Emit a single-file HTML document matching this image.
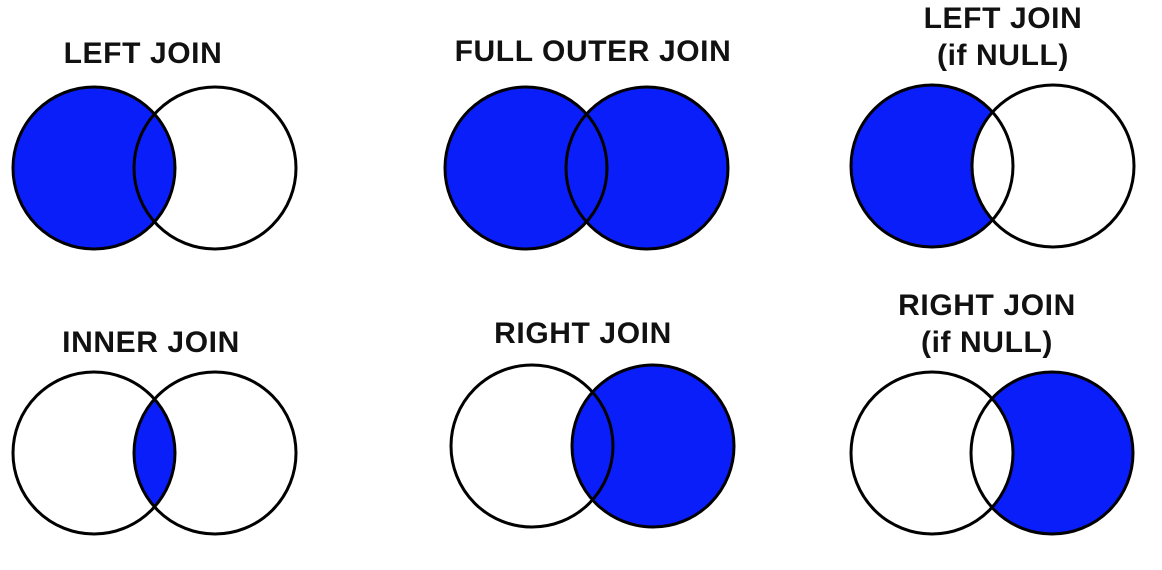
<!DOCTYPE html>
<html><head><meta charset="utf-8"><style>
html,body{margin:0;padding:0;background:#fff;width:1162px;height:570px;overflow:hidden}
svg{display:block}
text{font-family:"Liberation Sans",Arial,sans-serif;font-weight:bold;font-size:30px;letter-spacing:0.6px;fill:#111;text-anchor:middle}
</style></head><body>
<svg id="s" width="1162" height="570" viewBox="0 0 1162 570"></svg>
<script>
const names=["left-join","full-outer-join","left-join-if-null","inner-join","right-join","right-join-if-null"];
const titles=[["LEFT JOIN"],["FULL OUTER JOIN"],["LEFT JOIN","(if NULL)"],["INNER JOIN"],["RIGHT JOIN"],["RIGHT JOIN","(if NULL)"]];
const modes=["left","both","leftonly","inner","right","rightonly"];
const leftX=[94,526,932,94,532,932];
const rightX=[215,647,1053,215,653,1052];
const centerY=[168,168,166,453,446,453];
const titleX=[143,593,1003,151,583,987];
const titleY=[63,61,28,352,343,315];
const R=81, BLUE="#0a1efa";
const NS="http://www.w3.org/2000/svg";
const svg=document.getElementById('s');
const defs=document.createElementNS(NS,'defs');svg.appendChild(defs);
function mk(tag,attrs,parent){const e=document.createElementNS(NS,tag);for(const k in attrs)e.setAttribute(k,attrs[k]);(parent||svg).appendChild(e);return e;}
names.forEach((n,i)=>{
  const g=mk('g',{});
  
  
  const lx=leftX[i],rx=rightX[i],cy=centerY[i],m=modes[i];
  const cl=mk('clipPath',{id:'cl'+i},defs);mk('circle',{cx:lx,cy:cy,r:R},cl);
  const cr=mk('clipPath',{id:'cr'+i},defs);mk('circle',{cx:rx,cy:cy,r:R},cr);
  const mkL=mk('mask',{id:'ml'+i},defs);mk('rect',{x:0,y:0,width:1162,height:570,fill:'#fff'},mkL);mk('circle',{cx:rx,cy:cy,r:R,fill:'#000'},mkL);
  const mkR=mk('mask',{id:'mr'+i},defs);mk('rect',{x:0,y:0,width:1162,height:570,fill:'#fff'},mkR);mk('circle',{cx:lx,cy:cy,r:R,fill:'#000'},mkR);
  let f;
  if(m==='left'||m==='both'){f=mk('circle',{cx:lx,cy:cy,r:R,fill:BLUE},g);}
  if(m==='right'||m==='both'){f=mk('circle',{cx:rx,cy:cy,r:R,fill:BLUE},g);}
  if(m==='leftonly'){f=mk('circle',{cx:lx,cy:cy,r:R,fill:BLUE,mask:'url(#ml'+i+')'},g);}
  if(m==='rightonly'){f=mk('circle',{cx:rx,cy:cy,r:R,fill:BLUE,mask:'url(#mr'+i+')'},g);}
  if(m==='inner'){f=mk('circle',{cx:lx,cy:cy,r:R,fill:BLUE,'clip-path':'url(#cr'+i+')'},g);}
  if(f){}
  const c1=mk('circle',{cx:lx,cy:cy,r:R,fill:'none',stroke:'#000','stroke-width':3},g);
  
  
  const c2=mk('circle',{cx:rx,cy:cy,r:R,fill:'none',stroke:'#000','stroke-width':3},g);
  
  
  titles[i].forEach((t,j)=>{
    const tx=mk('text',{x:titleX[i],y:titleY[i]+j*37},g);
    tx.textContent=t;
    
    
  });
});
</script>
</body></html>
